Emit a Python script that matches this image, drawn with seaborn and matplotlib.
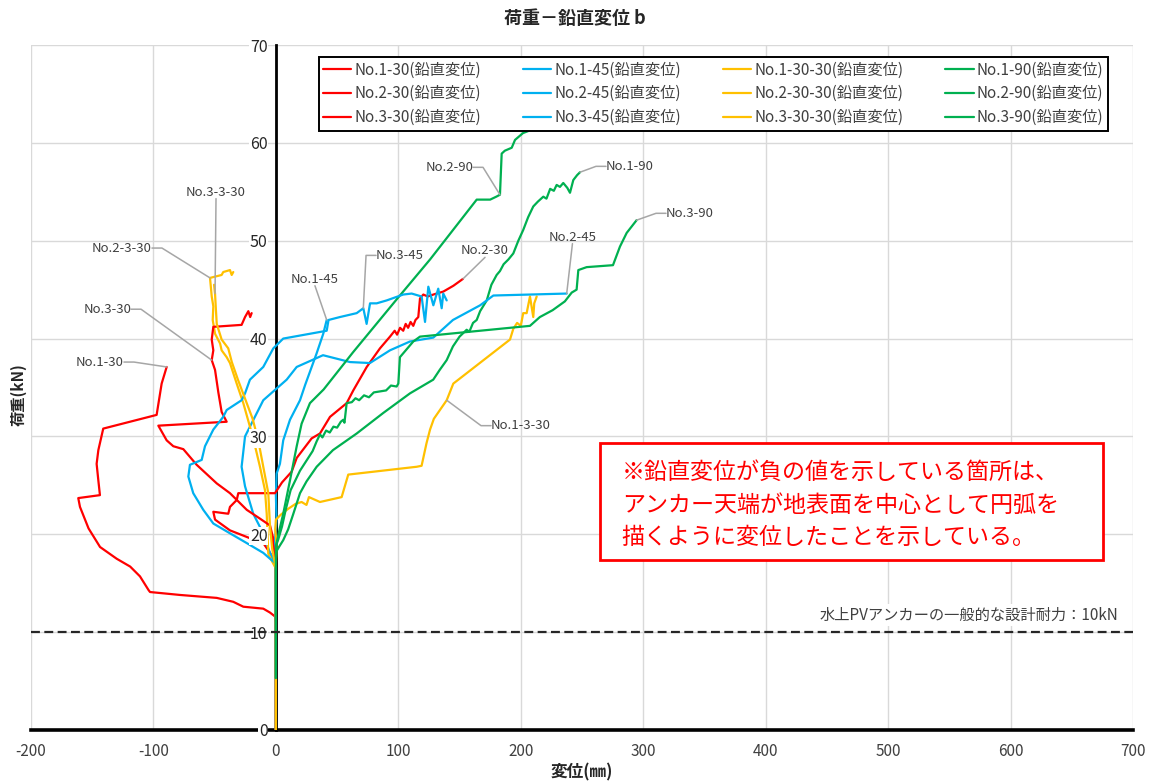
import math
import numpy as np
import pandas as pd
import matplotlib
matplotlib.use("Agg")
import matplotlib.pyplot as plt
import seaborn as sns

# ---------------- data: displacement (mm) / load (kN) ----------------
no1_30_x = [0, 0, -0.7, -4.8, -10.3, -26.6, -34.8, -48.3, -78.3, -102.8, -104, -111, -119, -130,
            -143.6, -153, -160, -161.4, -143.7, -145, -146.4, -145, -141, -97.4, -93.3, -89.2]
no1_30_y = [0, 11.0, 11.6, 12.0, 12.4, 12.6, 13.1, 13.5, 13.8, 14.1, 14.3, 15.7, 16.7, 17.5,
            18.7, 20.6, 22.8, 23.7, 24.0, 25.5, 27.2, 28.6, 30.8, 32.2, 35.4, 37.1]

no2_30_x = [0, 0, -4.8, -10.3, -21.2, -37.5, -49.7, -51.1, -38.9, -37.5, -32.0, -30.7, -0.7, 5,
            12.9, 17, 29.2, 36, 44.2, 57.8, 63.2, 74.2, 85, 93.2, 97, 99, 101.4, 104, 106, 108,
            110, 112.2, 114, 116.3, 117.7, 120.4, 124, 128.6, 136.7, 145, 152.8]
no2_30_y = [0, 17, 18.1, 19.1, 19.6, 20.4, 21.5, 22.3, 22.1, 22.8, 23.5, 24.2, 24.2, 25.3,
            26.4, 27.8, 29.8, 30.3, 32.0, 33.4, 34.7, 37.1, 39.0, 40.2, 40.8, 40.4, 41.1, 40.8,
            41.5, 41.1, 41.7, 41.3, 41.9, 42.2, 44.1, 44.5, 44.3, 44.5, 44.8, 45.4, 46.1]

no3_30_x = [0, 0, -2.4, -2.4, -4.8, -13, -23.8, -37.5, -48.3, -64.7, -75.6, -83.8, -89.2, -96,
            -40.2, -44.3, -47, -49.7, -52.4, -51.1, -52.4, -51.1, -28, -25.2, -22.5, -21, -19.8]
no3_30_y = [0, 17, 19.1, 19.7, 20.9, 21.6, 22.5, 24.2, 25.2, 27.1, 28.7, 29.0, 29.6, 31.1,
            31.5, 32.5, 34.5, 36.8, 37.8, 38.8, 39.9, 41.2, 41.4, 42.2, 42.8, 42.2, 42.6]

no1_45_x = [0, 0, -1, 0.5, 0, 0.6, 3.3, 6, 11.5, 19.7, 24, 33.3, 38.7, 41.5]
no1_45_y = [0, 17, 19, 21.5, 24, 26.2, 27.2, 29.6, 31.7, 33.7, 35.3, 38.5, 40.5, 41.9]

no2_45_x = [0, 0, -4.8, -11.6, -18.5, -25.2, -28, -25.2, -10.3, 8.8, 17, 38.5, 60.5, 76.8, 93.2,
            109.5, 128.6, 144.6, 166.8, 177.6, 237.5]
no2_45_y = [0, 17, 18.1, 20.4, 22.1, 24.9, 26.9, 30, 33.7, 35.8, 37.1, 38.3, 37.6, 37.5, 38.8,
            39.7, 40.1, 41.9, 43.4, 44.4, 44.6]

no3_45_x = [0, 0, -4.8, -10.3, -23.8, -37.5, -51.1, -59.3, -67.5, -71.5, -70.2, -60.6, -57.9,
            -51.1, -43, -40.2, -28, -25.2, -21.2, -10.3, -2.1, 6, 41.5, 43, 52.3, 66, 71.4, 74.1,
            76.9, 82.3, 90.5, 104, 110.9, 119, 121.8, 124.5, 128.6, 132.6, 135.4, 136.7, 139.5]
no3_45_y = [0, 17, 17.5, 18.1, 19.1, 20.1, 21.1, 22.5, 24.2, 25.9, 27.1, 27.6, 29.0,
            30.7, 32.0, 32.7, 33.7, 34.4, 35.8, 37.1, 39.0, 40.0, 40.8, 41.9, 42.2, 42.6, 43.1, 41.5,
            43.6, 43.6, 43.9, 44.5, 44.6, 44.3, 41.7, 45.3, 43.4, 45.1, 43.1, 44.6, 43.9]

no1_30_30_x = [0, 0, 0.5, -0.5, 0, 4, 10, 16, 21, 25, 27, 36, 53.7, 59.1, 115, 119, 123, 125.9,
               129, 139.5, 144.9, 191.2, 193.9, 197, 200, 202, 204.8, 207.5, 210.2, 211, 213]
no1_30_30_y = [0, 17, 19, 20.5, 21.5, 22, 22.6, 23.1, 23.3, 23.0, 23.8, 23.3, 23.8, 26.1, 26.9,
               27.0, 29.3, 30.7, 31.8, 33.7, 35.4, 39.9, 41.0, 41.6, 41.3, 42.6, 42.6, 44.3, 42.2,
               43.6, 44.3]

no2_30_30_x = [0, 0, -3, -6.2, -7.5, -8.9, -13, -17, -21.2, -26.6, -32, -37.5, -40.2, -44.3,
               -45.6, -49.7, -51.6, -51.1, -52.4, -53.8, -44.3, -43, -37.5, -36.1, -34.8]
no2_30_30_y = [0, 16.5, 17.2, 18, 22.1, 24.5, 26.9, 29, 31, 33.4, 35.4, 37.5, 38.1, 38.8,
               39.5, 40.5, 41.9, 43.3, 44.3, 46.2, 46.5, 46.8, 47.0, 46.5, 46.8]

no3_30_30_x = [0, 0, -3, -4.8, -6.2, -10.3, -14.4, -19, -25, -31, -36, -38.9, -44.3, -48.3,
               -49, -49.7, -50.5]
no3_30_30_y = [0, 16.5, 18.5, 20.8, 24.2, 26.9, 29.6, 31.8, 33.8, 35.8, 37.6, 39, 39.9, 41.5,
               43, 44.6, 45.5]

no1_90_x = [0, 0, 0.6, 3, 6, 10, 14, 19.7, 25, 33.3, 46.6, 66, 87.7, 109.5, 128.5, 133.8, 139.5,
            144.6, 150, 155.8, 158, 161, 164, 166.8, 172.2, 176, 180.3, 183, 186, 190, 193.9,
            198, 202, 206, 210.2, 214, 218.4, 221, 224, 227, 229.3, 232, 234.7, 238, 240.2,
            242.9, 246, 248.4]
no1_90_y = [5.3, 17.5, 18.3, 18.8, 19.4, 20.5, 22, 24.2, 25.4, 26.9, 28.6, 30.3, 32.4, 34.4,
            35.8, 36.8, 37.8, 39.2, 40.2, 40.9, 40.7, 41.6, 41.9, 42.8, 43.9, 45.5, 46.5, 46.9,
            47.6, 48.1, 48.7, 50, 51.1, 52.4, 53.5, 54, 54.5, 54.3, 55.3, 55.1, 55.7, 55.5,
            55.9, 55.4, 54.9, 56.2, 56.7, 57]

no2_90_x = [0, 0, 0.6, 3, 6, 11.5, 17, 21, 27.8, 39, 63, 98.6, 126, 164, 175, 180, 183, 184.4,
            187, 192.6, 195.3, 201.8, 206]
no2_90_y = [5.3, 18.6, 19.1, 20.5, 22.1, 25.5, 29, 31.3, 33.4, 34.8, 38.6, 44, 48.1, 54.2,
            54.2, 54.5, 54.7, 58.9, 59.2, 59.5, 60.3, 61, 61.2]

no3_90_x = [0, 0, 2, 5, 8, 12, 19.7, 30, 33.3, 36, 38, 41, 44, 47, 50, 53, 55, 56, 57.8, 62,
            65, 68, 72, 76, 80, 85, 90, 94, 98.6, 100, 101.3, 112.2, 117.7, 207.5, 215.6, 226,
            236, 241.6, 245.6, 247, 253.8, 275.3, 281, 286.5, 294.6]
no3_90_y = [5.3, 18.8, 19.5, 20.8, 22.5, 24.5, 26.5, 28.5, 29.5, 30.2, 29.9, 30.6, 30.4, 31.0,
            30.9, 31.5, 31.7, 31.4, 33.4, 33.5, 33.9, 33.7, 34.2, 34.0, 34.5, 34.6, 34.7, 35.2,
            35.1, 35.4, 38.1, 39.7, 40.2, 41.3, 42.2, 42.9, 43.8, 44.7, 45.0, 47, 47.3, 47.5,
            49.4, 50.8, 52.1]

RED, BLUE, YELLOW, GREEN = "#ff0000", "#00b0f0", "#ffc000", "#00b050"

# plotting order (also the series order of the workbook)
series = [
    ("No.1-30", no1_30_x, no1_30_y, RED),
    ("No.1-45", no1_45_x, no1_45_y, BLUE),
    ("No.1-30-30", no1_30_30_x, no1_30_30_y, YELLOW),
    ("No.1-90", no1_90_x, no1_90_y, GREEN),
    ("No.2-30", no2_30_x, no2_30_y, RED),
    ("No.2-45", no2_45_x, no2_45_y, BLUE),
    ("No.2-30-30", no2_30_30_x, no2_30_30_y, YELLOW),
    ("No.2-90", no2_90_x, no2_90_y, GREEN),
    ("No.3-30", no3_30_x, no3_30_y, RED),
    ("No.3-45", no3_45_x, no3_45_y, BLUE),
    ("No.3-30-30", no3_30_30_x, no3_30_30_y, YELLOW),
    ("No.3-90", no3_90_x, no3_90_y, GREEN),
]

x_ticks = [-200, -100, 0, 100, 200, 300, 400, 500, 600, 700]
y_ticks = [0, 10, 20, 30, 40, 50, 60, 70]
design_load = 10

TEXT_C = "#404040"
LEADER_C = "#a6a6a6"

# ---------------- figure ----------------
sns.set_theme(style="white")
plt.rcParams["font.family"] = ["Noto Sans CJK JP", "DejaVu Sans"]

W, H = 1155, 784
fig = plt.figure(figsize=(W / 100, H / 100), dpi=100)
ax = fig.add_axes([31 / W, 54 / H, 1102 / W, 685 / H])
ax.set_xlim(-200, 700)
ax.set_ylim(0, 70)

# light grid drawn as separate lines behind the data
for xv in x_ticks:
    ax.axvline(xv, color="#d9d9d9", lw=1.0, zorder=0.5)
for yv in y_ticks:
    ax.axhline(yv, color="#d9d9d9", lw=1.0, zorder=0.5)

for name, xs, ys, col in series:
    df = pd.DataFrame({"x": xs, "y": ys})
    sns.lineplot(data=df, x="x", y="y", sort=False, estimator=None, color=col,
                 lw=1.6, ax=ax, label=f"{name}(鉛直変位)", legend=False, zorder=2)

# axes styling: vertical axis crossing at 0
for s in ("top", "right"):
    ax.spines[s].set_visible(False)
ax.spines["left"].set_position(("data", 0))
ax.spines["left"].set_color("black")
ax.spines["left"].set_linewidth(2.0)
ax.spines["left"].set_zorder(1.5)
ax.spines["bottom"].set_color("black")
ax.spines["bottom"].set_linewidth(2.6)
ax.spines["bottom"].set_zorder(1.5)

ax.set_xticks(x_ticks)
ax.set_yticks(y_ticks)
ax.set_xticklabels([str(v) for v in x_ticks])
ax.set_yticklabels([str(v) for v in y_ticks])
ax.tick_params(axis="x", length=0, pad=9, labelsize=11, labelcolor=TEXT_C)
ax.tick_params(axis="y", length=4, width=1, color="black", direction="out", pad=2,
               labelsize=11.5, labelcolor="#262626")
ax.yaxis.set_zorder(4)
for t in ax.yaxis.get_major_ticks():
    t.label1.set_bbox(dict(facecolor="white", edgecolor="none", pad=0.5))
ax.set_xlabel("")
ax.set_ylabel("")

# design-load reference line
ax.axhline(design_load, color="#262626", lw=1.6, ls=(0, (4, 2)), zorder=5)
ax.text(688, design_load + 1.75, f"水上PVアンカーの一般的な設計耐力：{design_load}kN",
        ha="right", va="center", fontsize=11, color=TEXT_C, zorder=4.5,
        bbox=dict(facecolor="white", edgecolor="none", pad=2))

# legend (row-wise order like the workbook)
handles, labels = ax.get_legend_handles_labels()
order = [0, 4, 8, 1, 5, 9, 2, 6, 10, 3, 7, 11]
leg = ax.legend([handles[i] for i in order], [labels[i] for i in order], ncol=4,
                loc="upper right", bbox_to_anchor=(0.9773, 0.9825), borderaxespad=0,
                fontsize=11, handlelength=1.85, handletextpad=0.2, columnspacing=2.75,
                labelspacing=0.44, borderpad=0.3, fancybox=False, framealpha=1,
                edgecolor="black", facecolor="white")
leg.get_frame().set_linewidth(1.4)
for txt in leg.get_texts():
    txt.set_color(TEXT_C)
leg.set_zorder(6)


# series labels with leader lines
def leader_label(text, target, anchor, kind, stub=10):
    A = ax.transData.transform(anchor)
    B = ax.transData.transform(target)
    if kind in ("left", "right"):
        sign = 1 if kind == "left" else -1
        cx, cy = A[0] + sign * stub, A[1]
        angB = math.degrees(math.atan2(B[1] - cy, B[0] - cx))
        ha = "right" if kind == "left" else "left"
        relpos = (1, 0.5) if kind == "left" else (0, 0.5)
        cs = f"angle,angleA=0,angleB={angB:.3f},rad=0"
        va = "center"
    else:
        ha, va, relpos, cs = "center", "bottom", (0.5, 0), "arc3,rad=0"
    ax.annotate(text, xy=target, xytext=anchor, ha=ha, va=va, fontsize=9.5, color=TEXT_C,
                zorder=4,
                arrowprops=dict(arrowstyle="-", color=LEADER_C, lw=1.1, relpos=relpos,
                                shrinkA=0, shrinkB=0, patchA=None, connectionstyle=cs))


leader_label("No.1-30", (no1_30_x[-1], no1_30_y[-1]), (-124.1, 37.6), "left")
leader_label("No.3-30", (no3_30_x[18], no3_30_y[18]), (-118.3, 43.0), "left")
leader_label("No.2-3-30", (no2_30_30_x[19], no2_30_30_y[19]), (-101.2, 49.25), "left")
leader_label("No.3-3-30", (no3_30_30_x[15], no3_30_30_y[15]), (-48.9, 54.3), "above")
leader_label("No.1-45", (no1_45_x[-1], no1_45_y[-1]), (31.9, 45.4), "above")
leader_label("No.3-45", (no3_45_x[26], no3_45_y[26]), (81.8, 48.5), "right")
leader_label("No.2-30", (no2_30_x[-1], no2_30_y[-1]), (170.8, 48.3), "above")
leader_label("No.2-45", (no2_45_x[-1], no2_45_y[-1]), (242.2, 49.7), "above")
leader_label("No.2-90", (no2_90_x[16], no2_90_y[16]), (161.0, 57.5), "left")
leader_label("No.1-90", (no1_90_x[-1], no1_90_y[-1]), (269.6, 57.6), "right")
leader_label("No.3-90", (no3_90_x[-1], no3_90_y[-1]), (318.6, 52.8), "right")
leader_label("No.1-3-30", (no1_30_30_x[19], no1_30_30_y[19]), (175.7, 31.1), "right")

# note box
ax.add_patch(plt.Rectangle((0.5163, 0.2482), 0.4565, 0.1708, transform=ax.transAxes,
                           facecolor="white", edgecolor="#ff0000", lw=2.0, zorder=6))
note_lines = ["※鉛直変位が負の値を示している箇所は、",
              "アンカー天端が地表面を中心として円弧を",
              "描くように変位したことを示している。"]
for i, line in enumerate(note_lines):
    ax.text(0.536, 0.3755 - i * 0.047, line, transform=ax.transAxes, ha="left", va="center",
            fontsize=16.6, color="#ff0000", zorder=7)

# titles
fig.text(575 / W, 1 - 18 / H, "荷重－鉛直変位 b", ha="center", va="center", fontsize=13,
         fontweight="bold", color="#262626")
fig.text(582 / W, 1 - 772 / H, "変位(㎜)", ha="center", va="center", fontsize=12,
         fontweight="bold", color="#262626")
fig.text(18 / W, 1 - 395 / H, "荷重(kN)", ha="center", va="center", rotation=90, fontsize=11,
         fontweight="bold", color="#262626")

fig.savefig("out.png", dpi=100)
